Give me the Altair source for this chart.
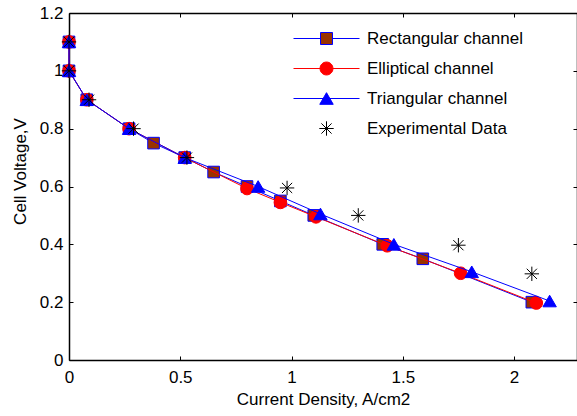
import altair as alt
import pandas as pd

# ---------------- data ----------------
series_names = ["Rectangular channel", "Elliptical channel", "Triangular channel", "Experimental Data"]

rect_x = [0.0, 0.0, 0.08, 0.27, 0.38, 0.52, 0.65, 0.80, 0.95, 1.10, 1.41, 1.59, 2.08]
rect_y = [1.10, 1.00, 0.90, 0.80, 0.75, 0.70, 0.65, 0.60, 0.55, 0.50, 0.40, 0.35, 0.20]

ell_x = [0.0, 0.0, 0.08, 0.27, 0.52, 0.80, 0.95, 1.11, 1.43, 1.76, 2.10]
ell_y = [1.10, 1.00, 0.90, 0.80, 0.70, 0.593, 0.545, 0.495, 0.395, 0.300, 0.197]

tri_x = [0.0, 0.0, 0.08, 0.27, 0.52, 0.85, 1.13, 1.46, 1.81, 2.16]
tri_y = [1.10, 1.00, 0.90, 0.80, 0.70, 0.600, 0.505, 0.400, 0.305, 0.204]

exp_x = [0.0, 0.0, 0.09, 0.29, 0.53, 0.98, 1.30, 1.75, 2.08]
exp_y = [1.10, 1.00, 0.90, 0.80, 0.70, 0.595, 0.500, 0.397, 0.298]

x_ticks = [0, 0.5, 1, 1.5, 2]
y_ticks = [0, 0.2, 0.4, 0.6, 0.8, 1.0, 1.2]

rows = []
for name, xs, ys in zip(series_names, [rect_x, ell_x, tri_x, exp_x], [rect_y, ell_y, tri_y, exp_y]):
    for i, (xv, yv) in enumerate(zip(xs, ys)):
        rows.append({"series": name, "x": xv, "y": yv, "i": i})
df = pd.DataFrame(rows)

# ---------------- style ----------------
FONT = "Liberation Sans"
FS = 17
W, H = 508, 347
X_MAX = 2.283
BLUE, RED, BROWN, BLACK = "#0000FF", "#FF0000", "#993300", "#000000"

ASTER = "M-1.2,0L1.2,0M0,-1.2L0,1.2M-0.85,-0.85L0.85,0.85M-0.85,0.85L0.85,-0.85"

legend_paths = [
    "M-5.5,0L-1,0M1,0L5.5,0M-1,-1L1,-1L1,1L-1,1Z",
    "M-5.5,0L5.5,0M-1.08,0A1.08,1.08 0 1,1 1.08,0A1.08,1.08 0 1,1 -1.08,0Z",
    "M-5.5,0L5.5,0M0,-0.97L1.12,0.97L-1.12,0.97Z",
    "M-1.2,0L1.2,0M0,-1.2L0,1.2M-0.85,-0.85L0.85,0.85M-0.85,0.85L0.85,-0.85",
]
legend_fills = [BROWN, RED, BLUE, "transparent"]
legend_strokes = [BLUE, RED, BLUE, BLACK]


def xenc(axis=None):
    return alt.X("x:Q", scale=alt.Scale(domain=[0, X_MAX], nice=False, zero=False), axis=axis)


def yenc(axis=None):
    return alt.Y("y:Q", scale=alt.Scale(domain=[0, 1.2], nice=False, zero=False), axis=axis)


def sel(name):
    return alt.datum.series == name


base = alt.Chart(df)

main_x_axis = alt.Axis(orient="bottom", values=x_ticks, format="~g", ticks=False, domain=True,
                       domainColor=BLACK, domainWidth=1.5, labelFont=FONT, labelFontSize=FS,
                       labelColor=BLACK, labelPadding=9, labelFlush=False, grid=False,
                       title="Current Density, A/cm2", titleFont=FONT, titleFontSize=FS,
                       titleFontWeight="normal", titleColor=BLACK, titlePadding=6)
main_y_axis = alt.Axis(orient="left", values=y_ticks, format="~g", ticks=False, domain=True,
                       domainColor=BLACK, domainWidth=1.5, labelFont=FONT, labelFontSize=FS,
                       labelColor=BLACK, labelPadding=6, grid=False,
                       title="Cell Voltage,V", titleFont=FONT, titleFontSize=FS,
                       titleFontWeight="normal", titleColor=BLACK, titleAngle=270,
                       titleX=-49, titleY=158, titleAlign="center", titleBaseline="middle")

inner_bottom = alt.Axis(orient="top", offset=-H, values=x_ticks, labels=False, domain=False,
                        ticks=True, tickSize=4, tickColor=BLACK, tickWidth=1, grid=False, title=None)
inner_left = alt.Axis(orient="right", offset=-W, values=y_ticks, labels=False, domain=False,
                      ticks=True, tickSize=4, tickColor=BLACK, tickWidth=1, grid=False, title=None)
top_border = alt.Axis(orient="bottom", offset=-H, values=x_ticks, labels=False, domain=True,
                      domainColor=BLACK, domainWidth=1.5, ticks=True, tickSize=4, tickColor=BLACK,
                      tickWidth=1, grid=False, title=None)
right_border = alt.Axis(orient="left", offset=-W, values=y_ticks, labels=False, domain=True,
                        domainColor=BLACK, domainWidth=1.5, ticks=True, tickSize=4, tickColor=BLACK,
                        tickWidth=1, grid=False, title=None)

layers = []

# Rectangular
layers.append(base.transform_filter(sel(series_names[0])).mark_line(color=BLUE, strokeWidth=1).encode(
    x=xenc(main_x_axis), y=yenc(main_y_axis), order="i:Q"))
layers.append(base.transform_filter(sel(series_names[0])).mark_point(
    shape="square", size=135, filled=True, fill=BROWN, stroke=BLUE, strokeWidth=1, opacity=1).encode(
    x=xenc(inner_bottom), y=yenc(inner_left)))
# Elliptical
layers.append(base.transform_filter(sel(series_names[1])).mark_line(color=RED, strokeWidth=1).encode(
    x=xenc(top_border), y=yenc(right_border), order="i:Q"))
layers.append(base.transform_filter(sel(series_names[1])).mark_point(
    shape="circle", size=160, filled=True, fill=RED, stroke=RED, strokeWidth=1, opacity=1).encode(
    x=xenc(), y=yenc()))
# Triangular
layers.append(base.transform_filter(sel(series_names[2])).mark_line(color=BLUE, strokeWidth=1).encode(
    x=xenc(), y=yenc(), order="i:Q"))
layers.append(base.transform_filter(sel(series_names[2])).mark_point(
    shape="triangle-up", size=180, filled=True, fill=BLUE, stroke=BLUE, strokeWidth=1, opacity=1).encode(
    x=xenc(), y=yenc()))
# Experimental
layers.append(base.transform_filter(sel(series_names[3])).mark_point(
    shape=ASTER, size=144, filled=False, stroke=BLACK, strokeWidth=1, opacity=1).encode(
    x=xenc(), y=yenc()))

# Legend-only layer (no marks drawn)
leg = alt.Legend(orient="none", legendX=249, legendY=17, title=None, labelFont=FONT,
                 labelFontSize=FS, labelColor=BLACK, symbolSize=144, symbolStrokeWidth=1,
                 labelOffset=32, rowPadding=12, padding=0, symbolOpacity=1)
layers.append(base.transform_filter("datum.x < -1").mark_point(filled=True, opacity=1, strokeWidth=1).encode(
    x=xenc(), y=yenc(),
    shape=alt.Shape("series:N", scale=alt.Scale(domain=series_names, range=legend_paths), legend=leg),
    fill=alt.Fill("series:N", scale=alt.Scale(domain=series_names, range=legend_fills), legend=leg),
    stroke=alt.Stroke("series:N", scale=alt.Scale(domain=series_names, range=legend_strokes), legend=leg),
))

chart = alt.layer(*layers).resolve_axis(x="independent", y="independent").properties(
    width=W, height=H,
    padding={"left": 69, "top": 13, "right": 0, "bottom": 56},
    autosize=alt.AutoSizeParams(type="none"),
    background="white",
).configure_view(stroke=None)

chart.save("out.html", embed_options={"renderer": "svg", "actions": False})
